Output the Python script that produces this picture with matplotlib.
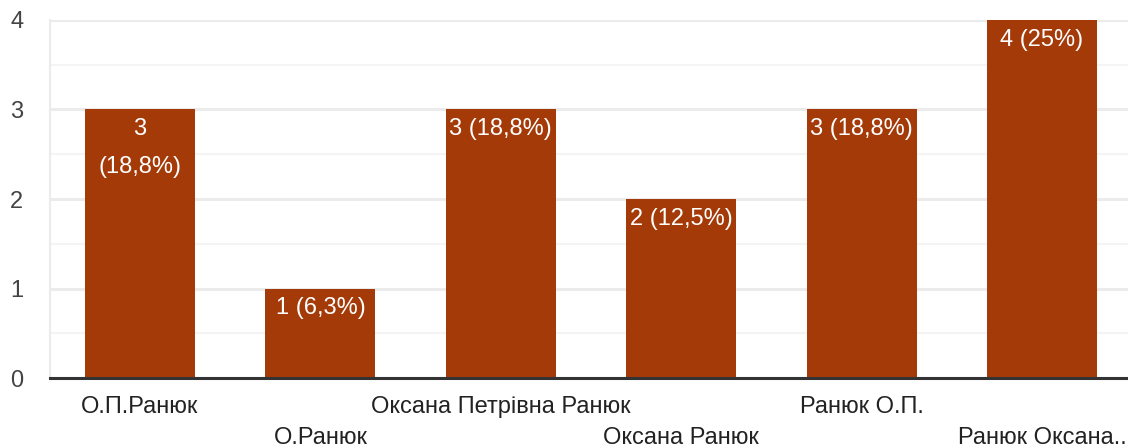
import matplotlib.pyplot as plt
from matplotlib.ticker import MultipleLocator

# data
categories = ['О.П.Ранюк', 'О.Ранюк', 'Оксана Петрівна Ранюк',
              'Оксана Ранюк', 'Ранюк О.П.', 'Ранюк Оксана..']
counts = [3, 1, 3, 2, 3, 4]
percents = ['18,8%', '6,3%', '18,8%', '12,5%', '18,8%', '25%']
wrapped = [True, False, False, False, False, False]

plt.rcParams['font.family'] = ['Liberation Sans', 'DejaVu Sans']
FS = 17

fig = plt.figure(figsize=(11.28, 4.48), dpi=100)
ax = fig.add_axes([49.8 / 1128, 70 / 448, 1082.4 / 1128, 358 / 448])

x = list(range(len(categories)))
bars = ax.bar(x, counts, width=0.61, color='#A53A09', zorder=3)

ax.set_xlim(-0.5, len(categories) - 0.5)
ax.set_ylim(0, 4)
ax.yaxis.set_major_locator(MultipleLocator(1))
ax.yaxis.set_minor_locator(MultipleLocator(0.5))
ax.grid(axis='y', which='major', color='#EBEBEB', linewidth=2.2, zorder=0)
ax.grid(axis='y', which='minor', color='#F4F4F4', linewidth=1.5, zorder=0)

for s in ['top', 'right']:
    ax.spines[s].set_visible(False)
ax.spines['left'].set_color('#EBEBEB')
ax.spines['left'].set_linewidth(1.5)
ax.spines['bottom'].set_color('#333333')
ax.spines['bottom'].set_linewidth(2.2)
ax.spines['bottom'].set_zorder(4)

ax.tick_params(axis='y', which='both', length=0, pad=19, labelsize=FS,
               labelcolor='#444444')
ax.tick_params(axis='x', length=0, labelbottom=False)

# alternating category labels
for i, name in enumerate(categories):
    row_y = -0.32 if i % 2 == 0 else -0.665
    ax.text(i, row_y, name, ha='center', va='center', fontsize=FS,
            color='#222222', clip_on=False)

# value labels inside bars
for i, (c, p, w) in enumerate(zip(counts, percents, wrapped)):
    if w:
        ax.text(i, c - 0.22, str(c), ha='center', va='center', fontsize=FS,
                color='white', zorder=5)
        ax.text(i, c - 0.64, f'({p})', ha='center', va='center', fontsize=FS,
                color='white', zorder=5)
    else:
        ax.text(i, c - 0.22, f'{c} ({p})', ha='center', va='center',
                fontsize=FS, color='white', zorder=5)

fig.savefig('out.png', dpi=100, facecolor='white')
